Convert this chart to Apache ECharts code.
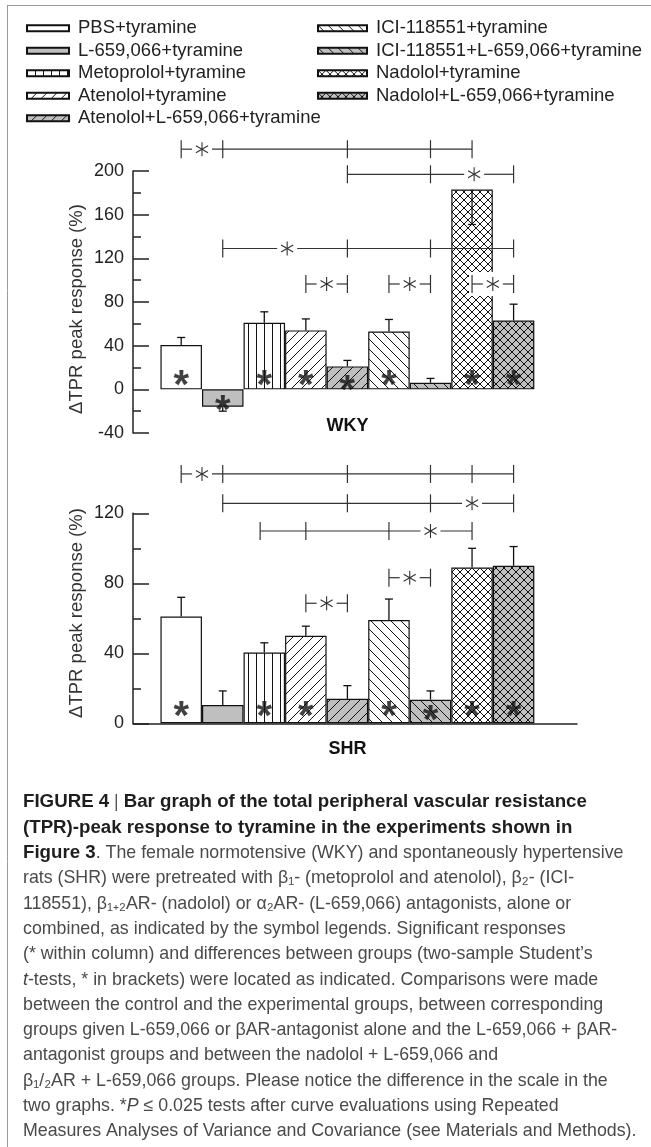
<!DOCTYPE html>
<html>
<head>
<meta charset="utf-8">
<title>TPR peak response to tyramine</title>
<script src="https://cdn.jsdelivr.net/npm/echarts/dist/echarts.min.js"></script>
<style>
    html, body { margin: 0; padding: 0; background: #fff; }
    #main { width: 651px; height: 1147px; }
</style>
</head>
<body>
<div id="main"></div>
<script>
const groups = ['PBS+tyramine', 'L-659,066+tyramine', 'Metoprolol+tyramine', 'Atenolol+tyramine',
    'Atenolol+L-659,066+tyramine', 'ICI-118551+tyramine', 'ICI-118551+L-659,066+tyramine',
    'Nadolol+tyramine', 'Nadolol+L-659,066+tyramine'];

// WKY panel
const wkyTicks = [-40, 0, 40, 80, 120, 160, 200];
const wkyValues = [40.5, -16, 61, 54, 21, 53, 6, 183, 63];
const wkyErrors = [7, -4, 10, 10.5, 5.5, 11, 4, -32, 15]; // negative = whisker drawn downwards
const wkyStars = [[0, 11], [1, -11.6], [2, 11], [3, 11], [4, 6.7], [5, 11], [7, 11], [8, 11]];
const wkyBrackets = [
    { y: 220, ticks: [0, 1, 4, 6, 7], star: 0.5 },
    { y: 197, ticks: [4, 6, 8], star: 7.05 },
    { y: 129, ticks: [1, 4, 6, 8], star: 2.55 },
    { y: 96.5, ticks: [3, 4], star: 3.5 },
    { y: 96.5, ticks: [5, 6], star: 5.5 },
    { y: 96.5, ticks: [7, 8], star: 7.5, bg: true }
];

// SHR panel
const shrTicks = [0, 40, 80, 120];
const shrValues = [61, 10.5, 40.5, 50, 14, 59, 13.5, 89, 90];
const shrErrors = [11, 8, 5.5, 5.5, 7.5, 12, 5, 11, 11];
const shrStars = [[0, 9], [2, 9], [3, 9], [5, 9], [6, 6.3], [7, 9], [8, 9]];
const shrBrackets = [
    { y: 142.5, ticks: [0, 1, 4, 6, 7, 8], star: 0.5 },
    { y: 125.7, ticks: [1, 4, 6, 8], star: 7 },
    { y: 109.9, ticks: [1.9, 3, 5, 7], star: 6 },
    { y: 68.6, ticks: [3, 4], star: 3.5 },
    { y: 83.2, ticks: [5, 6], star: 5.5 }
];

const captionLines = [
    '{b|FIGURE 4} {n||} {b|Bar graph of the total peripheral vascular resistance}',
    '{b|(TPR)-peak response to tyramine in the experiments shown in}',
    '{b|Figure 3}. The female normotensive (WKY) and spontaneously hypertensive',
    'rats (SHR) were pretreated with β₁- (metoprolol and atenolol), β₂- (ICI-',
    '118551), β₁₊₂AR- (nadolol) or α₂AR- (L-659,066) antagonists, alone or',
    'combined, as indicated by the symbol legends. Significant responses',
    '(* within column) and differences between groups (two-sample Student’s',
    '{i|t}-tests, * in brackets) were located as indicated. Comparisons were made',
    'between the control and the experimental groups, between corresponding',
    'groups given L-659,066 or βAR-antagonist alone and the L-659,066 + βAR-',
    'antagonist groups and between the nadolol + L-659,066 and',
    'β₁/₂AR + L-659,066 groups. Please notice the difference in the scale in the',
    'two graphs. *{i|P} ≤ 0.025 tests after curve evaluations using Repeated',
    'Measures Analyses of Variance and Covariance (see Materials and Methods).'
];

const hatchKind = ['none', 'none', 'vert', 'fwd', 'fwd', 'back', 'back', 'cross', 'cross'];
const hatchBg = ['#fff', '#bfbfbf', '#fff', '#fff', '#bfbfbf', '#fff', '#bfbfbf', '#fff', '#bfbfbf'];
const FONT = 'Liberation Sans, Arial, sans-serif';

function makeTile(kind, bg) {
    let s = kind === 'vert' ? 8 : kind === 'cross' ? 8 : 10;
    let c = document.createElement('canvas');
    c.width = s;
    c.height = s;
    let g = c.getContext('2d');
    g.fillStyle = bg;
    g.fillRect(0, 0, s, s);
    g.strokeStyle = '#111';
    g.lineWidth = 1;
    g.beginPath();
    if (kind === 'vert') {
        g.moveTo(0.5, 0);
        g.lineTo(0.5, s);
    }
    if (kind === 'fwd' || kind === 'cross') {
        g.moveTo(-1, s + 1); g.lineTo(s + 1, -1);
        g.moveTo(-1, 1); g.lineTo(1, -1);
        g.moveTo(s - 1, s + 1); g.lineTo(s + 1, s - 1);
    }
    if (kind === 'back' || kind === 'cross') {
        g.moveTo(-1, -1); g.lineTo(s + 1, s + 1);
        g.moveTo(s - 1, -1); g.lineTo(s + 1, 1);
        g.moveTo(-1, s - 1); g.lineTo(1, s + 1);
    }
    g.stroke();
    return c;
}

const fills = hatchKind.map((k, i) => ({ image: makeTile(k, hatchBg[i]), repeat: 'repeat' }));

function barSeries(grid, values) {
    return groups.map((name, i) => ({
        name: name,
        type: 'bar',
        xAxisIndex: grid,
        yAxisIndex: grid,
        data: [[i, values[i]]],
        barWidth: 41.5,
        barGap: '-100%',
        itemStyle: { color: fills[i], borderColor: '#111', borderWidth: 1.2 },
        emphasis: { disabled: true },
        z: 2
    }));
}

function errorSeries(grid, values, errors) {
    return {
        type: 'custom',
        xAxisIndex: grid,
        yAxisIndex: grid,
        silent: true,
        z: 3,
        data: values.map((v, i) => [i, v, v + errors[i]]),
        encode: { x: 0, y: [1, 2] },
        renderItem(params, api) {
            let a = api.coord([api.value(0), api.value(1)]);
            let b = api.coord([api.value(0), api.value(2)]);
            let st = { stroke: '#111', lineWidth: 1.3 };
            return {
                type: 'group',
                children: [
                    { type: 'line', shape: { x1: a[0], y1: a[1], x2: b[0], y2: b[1] }, style: st },
                    { type: 'line', shape: { x1: b[0] - 4, y1: b[1], x2: b[0] + 4, y2: b[1] }, style: st }
                ]
            };
        }
    };
}

function bracketSeries(grid, list) {
    return {
        type: 'custom',
        xAxisIndex: grid,
        yAxisIndex: grid,
        silent: true,
        z: 4,
        data: list.map(b => [b.ticks[0], b.y]),
        encode: { x: 0, y: 1 },
        renderItem(params, api) {
            let b = list[params.dataIndex];
            let pts = b.ticks.map(t => api.coord([t, b.y]));
            let s = api.coord([b.star, b.y]);
            let y = pts[0][1];
            let x0 = pts[0][0];
            let x1 = pts[pts.length - 1][0];
            let ln = { stroke: '#333', lineWidth: 1.2 };
            let kids = [];
            if (b.bg) {
                kids.push({ type: 'rect', shape: { x: x0 - 3, y: y - 12, width: s[0] + 14 - x0, height: 24 }, style: { fill: '#fff' } });
            }
            kids.push({ type: 'line', shape: { x1: x0, y1: y, x2: s[0] - 10, y2: y }, style: ln });
            kids.push({ type: 'line', shape: { x1: s[0] + 10, y1: y, x2: x1, y2: y }, style: ln });
            pts.forEach(p => {
                kids.push({ type: 'line', shape: { x1: p[0], y1: y - 9, x2: p[0], y2: y + 9 }, style: ln });
            });
            for (let k = 0; k < 3; k++) {
                let ang = Math.PI / 2 + k * Math.PI / 3;
                let dx = 7 * Math.cos(ang);
                let dy = 7 * Math.sin(ang);
                kids.push({ type: 'line', shape: { x1: s[0] - dx, y1: y - dy, x2: s[0] + dx, y2: y + dy }, style: { stroke: '#333', lineWidth: 1.1 } });
            }
            return { type: 'group', children: kids };
        }
    };
}

function starSeries(grid, stars) {
    return {
        type: 'scatter',
        xAxisIndex: grid,
        yAxisIndex: grid,
        silent: true,
        z: 5,
        data: stars,
        symbolSize: 1,
        itemStyle: { color: 'transparent' },
        label: {
            show: true,
            position: 'inside',
            formatter: '*',
            fontSize: 40,
            fontWeight: 'bold',
            fontFamily: FONT,
            color: '#111',
            offset: [0, 10]
        }
    };
}

function yAxis(grid, ticks) {
    let line = { color: '#222', width: 1.5 };
    return {
        gridIndex: grid,
        type: 'value',
        min: ticks[0],
        max: ticks[ticks.length - 1],
        interval: ticks[1] - ticks[0],
        axisLine: { show: true, onZero: false, lineStyle: line },
        axisTick: { show: true, inside: true, length: 16, lineStyle: line },
        minorTick: { show: true, splitNumber: 2, length: 8, lineStyle: line },
        axisLabel: { margin: 9, fontSize: 18, color: '#222', fontFamily: FONT },
        splitLine: { show: false }
    };
}

function legendBox(names, left, itemWidth) {
    return {
        data: names,
        left: left,
        top: 17,
        padding: 0,
        orient: 'vertical',
        icon: 'rect',
        itemWidth: itemWidth,
        itemHeight: 6,
        itemGap: 0,
        selectedMode: false,
        textStyle: { fontSize: 18.5, fontFamily: FONT, color: '#222', lineHeight: 22.5, padding: [0, 0, 0, 4] }
    };
}

function initChart() {
    let myChart = echarts.init(document.getElementById('main'), null, { renderer: 'canvas' });
    let option;

    let captionRich = {
        b: { fontWeight: 'bold', fontSize: 18.7, fontFamily: FONT, fill: '#1e1e1e' },
        n: { fontSize: 17.8, fontFamily: FONT, fill: '#555' },
        i: { fontStyle: 'italic', fontSize: 17.8, fontFamily: FONT, fill: '#444' }
    };

    let graphics = [
        { type: 'line', shape: { x1: 7, y1: 5.5, x2: 651, y2: 5.5 }, style: { stroke: '#9a9a9a', lineWidth: 1 } },
        { type: 'line', shape: { x1: 7.5, y1: 5, x2: 7.5, y2: 1147 }, style: { stroke: '#9a9a9a', lineWidth: 1 } },
        { type: 'text', x: 77, y: 309, rotation: Math.PI / 2, style: { text: 'ΔTPR peak response (%)', fontSize: 18.5, fontFamily: FONT, fill: '#333', align: 'center', verticalAlign: 'middle' } },
        { type: 'text', x: 77, y: 613, rotation: Math.PI / 2, style: { text: 'ΔTPR peak response (%)', fontSize: 18.5, fontFamily: FONT, fill: '#333', align: 'center', verticalAlign: 'middle' } },
        { type: 'text', x: 347.5, y: 426, style: { text: 'WKY', fontSize: 18, fontWeight: 'bold', fontFamily: FONT, fill: '#111', align: 'center', verticalAlign: 'middle' } },
        { type: 'text', x: 347.5, y: 749, style: { text: 'SHR', fontSize: 18, fontWeight: 'bold', fontFamily: FONT, fill: '#111', align: 'center', verticalAlign: 'middle' } }
    ];
    captionLines.forEach((line, k) => {
        graphics.push({
            type: 'text',
            x: 23,
            y: 802.3 + k * 25.33,
            style: {
                text: line,
                rich: captionRich,
                fontSize: 17.8,
                fontFamily: FONT,
                fill: '#4a4a4a',
                align: 'left',
                verticalAlign: 'middle'
            }
        });
    });

    option = {
        animation: false,
        backgroundColor: '#fff',
        legend: [
            legendBox(groups.slice(0, 5), 26, 42),
            legendBox(groups.slice(5), 317, 49)
        ],
        grid: [
            { left: 133, top: 171, width: 444, height: 262 },
            { left: 133, top: 513.3, width: 444, height: 210 }
        ],
        xAxis: [
            { gridIndex: 0, type: 'value', min: -1.16, max: 9.526, show: false },
            {
                gridIndex: 1, type: 'value', min: -1.16, max: 9.526, position: 'bottom',
                axisLine: { show: true, onZero: false, lineStyle: { color: '#222', width: 1.5 } },
                axisTick: { show: false },
                axisLabel: { show: false },
                splitLine: { show: false }
            }
        ],
        yAxis: [yAxis(0, wkyTicks), yAxis(1, shrTicks)],
        graphic: graphics,
        series: [].concat(
            barSeries(0, wkyValues),
            barSeries(1, shrValues),
            [errorSeries(0, wkyValues, wkyErrors), errorSeries(1, shrValues, shrErrors)],
            [bracketSeries(0, wkyBrackets), bracketSeries(1, shrBrackets)],
            [starSeries(0, wkyStars), starSeries(1, shrStars)]
        )
    };

    option && myChart.setOption(option);
}

initChart();
</script>
</body>
</html>
